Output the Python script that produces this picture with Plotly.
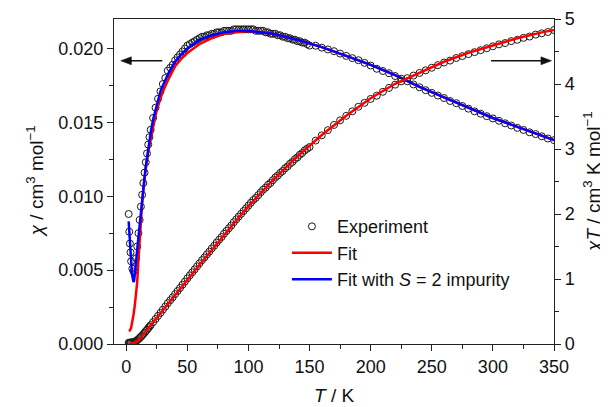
import plotly.graph_objects as go

# ---------------- data ----------------
T_exp = [2, 2.5, 3, 3.5, 4, 5, 6, 7, 8, 9, 10, 11, 12, 13, 14, 15, 16, 17, 18, 19,
         20, 22, 24, 26, 28, 30, 32, 34, 36, 38, 40, 42, 44, 46, 48, 50, 52, 54, 56, 58,
         60, 62, 64, 66, 68, 70, 72, 74, 76, 78, 80, 82, 84, 86, 88, 90, 92, 94, 96, 98,
         100, 102, 104, 106, 108, 110, 112, 114, 116, 118, 120, 122, 124, 126, 128, 130,
         132, 134, 136, 138, 140, 142, 144, 146, 148, 150,
         155, 160, 165, 170, 175, 180, 185, 190, 195, 200, 205, 210, 215, 220, 225, 230,
         235, 240, 245, 250, 255, 260, 265, 270, 275, 280, 285, 290, 295, 300, 305, 310,
         315, 320, 325, 330, 335, 340, 345, 350]

chi_exp = [0.0088, 0.0076, 0.0068, 0.0062, 0.0056, 0.0051, 0.0049, 0.0052, 0.0058, 0.0066,
           0.0075, 0.0084, 0.0093, 0.0101, 0.0109, 0.0116, 0.0123, 0.0129, 0.0135, 0.0140,
           0.0145, 0.0153, 0.0160, 0.0166, 0.0171, 0.0176, 0.0180, 0.0185, 0.0187, 0.0189,
           0.0192, 0.0194, 0.0196, 0.0198, 0.0200, 0.0202, 0.0203, 0.0204, 0.0205, 0.0206,
           0.0207, 0.0208, 0.0208, 0.0209, 0.0209, 0.0210, 0.0210, 0.0211, 0.0211, 0.0211,
           0.0212, 0.0212, 0.0212, 0.0212, 0.0213, 0.0213, 0.0213, 0.0213, 0.0213, 0.0213,
           0.0213, 0.0213, 0.0213, 0.0212, 0.0212, 0.0212, 0.0212, 0.0211, 0.0211, 0.0210,
           0.0210, 0.0210, 0.0209, 0.0209, 0.0208, 0.0208, 0.0207, 0.0207, 0.0206, 0.0206,
           0.0205, 0.0205, 0.0204, 0.0204, 0.0203, 0.0202,
           0.02019, 0.02006, 0.01994, 0.01982, 0.01966, 0.01950, 0.01935, 0.01921, 0.01903,
           0.01885, 0.01863, 0.01848, 0.01833, 0.01814, 0.01796, 0.01778, 0.01757, 0.01738,
           0.01718, 0.01700, 0.01682, 0.01665, 0.01645, 0.01630, 0.01611, 0.01593, 0.01575,
           0.01559, 0.01542, 0.01527, 0.01511, 0.01494, 0.01479, 0.01463, 0.01449, 0.01433,
           0.01421, 0.01406, 0.01391, 0.01380]

chiT_exp = [0.018, 0.019, 0.020, 0.022, 0.022, 0.026, 0.029, 0.036, 0.046, 0.059,
            0.075, 0.092, 0.112, 0.131, 0.153, 0.174, 0.197, 0.219, 0.243, 0.266,
            0.290, 0.337, 0.384, 0.432, 0.479, 0.528, 0.576, 0.629, 0.673, 0.718,
            0.768, 0.815, 0.862, 0.911, 0.960, 1.010, 1.056, 1.102, 1.148, 1.195,
            1.242, 1.290, 1.331, 1.379, 1.421, 1.470, 1.512, 1.561, 1.604, 1.646,
            1.696, 1.738, 1.781, 1.823, 1.874, 1.917, 1.960, 2.002, 2.045, 2.087,
            2.130, 2.173, 2.215, 2.247, 2.290, 2.332, 2.374, 2.405, 2.448, 2.478,
            2.520, 2.562, 2.592, 2.633, 2.662, 2.704, 2.732, 2.774, 2.802, 2.843,
            2.870, 2.911, 2.938, 2.978, 3.004, 3.030,
            3.13, 3.21, 3.29, 3.37, 3.44, 3.51, 3.58, 3.65, 3.71, 3.77, 3.82, 3.88,
            3.94, 3.99, 4.04, 4.09, 4.13, 4.17, 4.21, 4.25, 4.29, 4.33, 4.36, 4.40,
            4.43, 4.46, 4.49, 4.52, 4.55, 4.58, 4.61, 4.63, 4.66, 4.68, 4.71, 4.73,
            4.76, 4.78, 4.80, 4.83]

T_fit = [2, 3, 4, 5, 6, 7, 8, 9, 10, 11, 12, 13, 14, 15, 16, 18, 20, 22, 24, 26, 28, 30,
         35, 40, 45, 50, 60, 70, 80, 90, 100, 110, 120, 140, 160, 180, 200, 220, 240, 260,
         280, 300, 320, 340, 350]

chi_fit = [0.00090, 0.00092, 0.0011, 0.0015, 0.0020, 0.0026, 0.0033, 0.0042, 0.0057, 0.0071,
           0.0084, 0.0095, 0.0104, 0.0112, 0.0119, 0.0130, 0.0139, 0.0148, 0.0155, 0.0161,
           0.0166, 0.0171, 0.0180, 0.0188, 0.0193, 0.0197, 0.0203, 0.0207, 0.0210, 0.0211,
           0.0212, 0.0211, 0.0210, 0.0206, 0.0201, 0.0195, 0.0189, 0.0182, 0.0174, 0.0167,
           0.0160, 0.0153, 0.0147, 0.0141, 0.0138]

chiT_fit = [0.002, 0.003, 0.004, 0.008, 0.012, 0.018, 0.026, 0.038, 0.057, 0.078,
            0.101, 0.124, 0.146, 0.168, 0.190, 0.234, 0.278, 0.326, 0.372, 0.419,
            0.465, 0.513, 0.630, 0.752, 0.869, 0.985, 1.218, 1.449, 1.680, 1.899,
            2.120, 2.321, 2.520, 2.884, 3.216, 3.510, 3.780, 4.004, 4.176, 4.342,
            4.480, 4.590, 4.704, 4.794, 4.830]

T_imp = [2, 2.5, 3, 3.5, 4, 4.5, 5, 5.5, 6, 6.5, 7, 7.5, 8, 9, 10, 11, 12, 13, 14, 15, 16,
         18, 20, 22, 24, 26, 28, 30, 35, 40, 45, 50, 60, 70, 80, 90, 100, 110, 120, 140,
         160, 180, 200, 220, 240, 260, 280, 300, 320, 340, 350]

chi_imp = [0.0083, 0.0075, 0.0068, 0.0061, 0.0055, 0.0050, 0.0046, 0.0043, 0.0042, 0.0043,
           0.0046, 0.0050, 0.0055, 0.0064, 0.0073, 0.0081, 0.0089, 0.0097, 0.0105, 0.0113,
           0.0120, 0.0133, 0.0143, 0.0152, 0.0159, 0.0165, 0.0171, 0.0175, 0.0184, 0.0191,
           0.0196, 0.0200, 0.0206, 0.0209, 0.0211, 0.0212, 0.0212, 0.0211, 0.0210, 0.0206,
           0.0201, 0.0195, 0.0189, 0.0182, 0.0174, 0.0167, 0.0160, 0.0153, 0.0147, 0.0141,
           0.0138]

x_ticks = [0, 50, 100, 150, 200, 250, 300, 350]
y1_ticks = [0.000, 0.005, 0.010, 0.015, 0.020]
y2_ticks = [0, 1, 2, 3, 4, 5]

# ---------------- figure ----------------
FONT = "Arial, Liberation Sans, sans-serif"
AX = "#222222"
fig = go.Figure()

mk = dict(symbol="circle-open", size=7, color="#1a1a1a", line=dict(width=1, color="#1a1a1a"))

fig.add_trace(go.Scatter(x=T_exp, y=chi_exp, mode="markers", marker=mk,
                         name="Experiment", legendgroup="e"))
fig.add_trace(go.Scatter(x=T_exp, y=chiT_exp, mode="markers", marker=mk, yaxis="y2",
                         name="Experiment", legendgroup="e", showlegend=False))
fig.add_trace(go.Scatter(x=T_fit, y=chi_fit, mode="lines", line=dict(color="#ff0000", width=2.5),
                         name="Fit", legendgroup="f"))
fig.add_trace(go.Scatter(x=T_fit, y=chiT_fit, mode="lines", line=dict(color="#ff0000", width=2.5),
                         yaxis="y2", name="Fit", legendgroup="f", showlegend=False))
fig.add_trace(go.Scatter(x=T_imp, y=chi_imp, mode="lines", line=dict(color="#0000ff", width=2.5),
                         name="Fit with <i>S</i> = 2 impurity", legendgroup="i"))

axcommon = dict(showline=True, linecolor=AX, linewidth=1.3, ticks="outside", ticklen=6,
                tickwidth=1.3, tickcolor=AX, showgrid=False, zeroline=False, automargin=False,
                tickfont=dict(family=FONT, size=18, color="#111"))

# the page body adds an 8 px offset, so the figure is 600x399 with margins compensated
fig.update_layout(
    width=600, height=399,
    margin=dict(l=106, r=54, t=11, b=63, autoexpand=False),
    paper_bgcolor="white", plot_bgcolor="white",
    font=dict(family=FONT, color="#111"),
    xaxis=dict(range=[-10, 350], tickvals=x_ticks, mirror=True,
               minor=dict(dtick=25, tick0=0, ticks="outside", ticklen=3.5, tickcolor=AX, tickwidth=1.2),
               **axcommon),
    yaxis=dict(range=[0, 0.022], tickvals=y1_ticks, tickformat=".3f",
               minor=dict(dtick=0.0025, tick0=0, ticks="outside", ticklen=3.5, tickcolor=AX, tickwidth=1.2),
               **axcommon),
    yaxis2=dict(range=[0, 5], tickvals=y2_ticks, overlaying="y", side="right", anchor="x",
                minor=dict(dtick=0.5, tick0=0, ticks="outside", ticklen=3.5, tickcolor=AX, tickwidth=1.2),
                **axcommon),
    legend=dict(x=0.393, y=0.418, xanchor="left", yanchor="top", bgcolor="rgba(0,0,0,0)",
                font=dict(family=FONT, size=18, color="#111"), itemwidth=40, tracegroupgap=0),
    showlegend=True,
)

# axis titles
TF = dict(family=FONT, size=19, color="#111")
fig.add_annotation(text="<i>T</i> / K", xref="paper", yref="paper", x=0.5, y=-0.157,
                   xanchor="center", yanchor="middle", showarrow=False, font=TF)
fig.add_annotation(text="<i>χ</i> / cm<sup>3</sup> mol<sup>−1</sup>", xref="paper", yref="paper",
                   x=-0.18, y=0.5, xanchor="center", yanchor="middle", textangle=-90,
                   showarrow=False, font=TF)
fig.add_annotation(text="<i>χT</i> / cm<sup>3</sup> K mol<sup>−1</sup>", xref="paper", yref="paper",
                   x=1.085, y=0.5, xanchor="center", yanchor="middle", textangle=-90,
                   showarrow=False, font=TF)

# direction arrows (decorations)
ARW = "#111111"
fig.add_shape(type="line", xref="x", yref="y", x0=29.5, x1=3.0, y0=0.01917, y1=0.01917,
              line=dict(color=ARW, width=1.6))
fig.add_shape(type="path", xref="x", yref="y",
              path="M -4.5,0.01917 L 4.2,0.01944 L 4.2,0.01890 Z",
              fillcolor=ARW, line=dict(color=ARW, width=0.5))
fig.add_shape(type="line", xref="x", yref="y", x0=298.5, x1=340.0, y0=0.01917, y1=0.01917,
              line=dict(color=ARW, width=1.6))
fig.add_shape(type="path", xref="x", yref="y",
              path="M 348,0.01917 L 339.3,0.01944 L 339.3,0.01890 Z",
              fillcolor=ARW, line=dict(color=ARW, width=0.5))

fig.write_html("out.html")
